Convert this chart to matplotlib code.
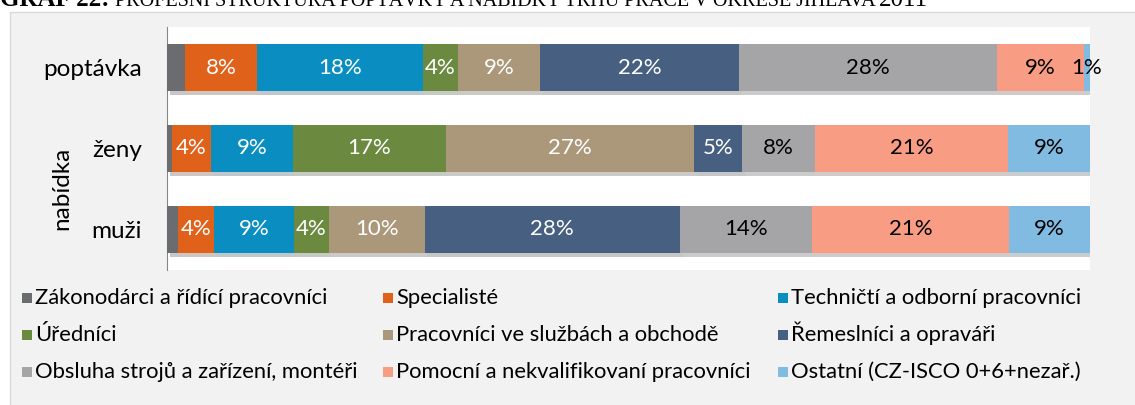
import numpy as np
import matplotlib
matplotlib.use("Agg")
import matplotlib.pyplot as plt
from matplotlib.patches import Rectangle
import matplotlib.patheffects as pe

plt.rcParams['font.family'] = ['Lato', 'DejaVu Sans']

# rows top to bottom
rows = ["poptávka", "ženy", "muži"]
series = ["Zákonodárci a řídící pracovníci", "Specialisté", "Techničtí a odborní pracovníci",
          "Úředníci", "Pracovníci ve službách a obchodě", "Řemeslníci a opraváři",
          "Obsluha strojů a zařízení, montéři", "Pomocní a nekvalifikovaní pracovníci",
          "Ostatní (CZ-ISCO 0+6+nezař.)"]
# shares in % per series: [poptávka, ženy, muži]
zakonodarci = [2.0, 0.5, 1.2]
specialiste = [7.8, 4.3, 3.9]
technicti = [17.9, 8.8, 8.7]
urednici = [3.8, 16.6, 3.7]
sluzby = [8.9, 26.9, 10.4]
remeslnici = [21.6, 5.2, 27.7]
obsluha = [27.9, 7.9, 14.3]
pomocni = [9.4, 20.9, 21.3]
ostatni = [0.7, 9.0, 8.8]
values = [zakonodarci, specialiste, technicti, urednici, sluzby, remeslnici, obsluha, pomocni, ostatni]

colors = ["#6b6c70", "#e0611a", "#0a8ec1", "#6b8a40", "#ab987a", "#476081", "#a5a5a7", "#f89d84", "#82bbe1"]
label_colors = ["white", "white", "white", "white", "white", "white", "black", "black", "black"]

W, H = 1135, 405
fig = plt.figure(figsize=(W / 100, H / 100), dpi=100)
fig.patch.set_facecolor("white")

# chart area background
bg = Rectangle((10 / W, -0.05), 1.1, 1.05 - 12 / H, transform=fig.transFigure,
               facecolor="#f2f2f2", edgecolor="#d9d9d9", lw=1, zorder=-10)
fig.patches.append(bg)

# title (partly cut off at the top)
base_y = 1 - 6 / H
t1 = fig.text(0.0, base_y, "GRAF 22:", family="Liberation Serif", fontsize=18,
              fontweight="bold", va="baseline", ha="left")
t2 = fig.text(0.0, base_y, " PROFESNÍ STRUKTURA POPTÁVKY A NABÍDKY TRHU PRÁCE V OKRESE JIHLAVA ",
              family="Liberation Serif", fontsize=14.5, va="baseline", ha="left")
t3 = fig.text(0.0, base_y, "2011", family="Liberation Serif", fontsize=18, va="baseline", ha="left")
fig.canvas.draw()
r = fig.canvas.get_renderer()
bb = t1.get_window_extent(r)
t2.set_position((bb.x1 / fig.bbox.width, base_y))
bb = t2.get_window_extent(r)
t3.set_position((bb.x1 / fig.bbox.width, base_y))

ax = fig.add_axes([167 / W, 1 - 270 / H, 923 / W, 243 / H])
ax.set_facecolor("white")

y = np.arange(len(rows))
left = np.zeros(len(rows))
for i, vals in enumerate(values):
    vals = np.array(vals)
    ax.barh(y, vals, left=left, height=0.57, color=colors[i], label=series[i], zorder=3,
            path_effects=[pe.SimplePatchShadow(offset=(2, -3), alpha=0.25), pe.Normal()])
    if i > 0:
        for j, v in enumerate(vals):
            ax.text(left[j] + v / 2, y[j], f"{v:.0f}%", ha="center", va="center",
                    color=label_colors[i], fontsize=16, zorder=4)
    left += vals

ax.set_xlim(0, 100)
ax.set_ylim(2.5, -0.5)
ax.set_xticks([])
ax.set_yticks(y)
ax.set_yticklabels(rows, fontsize=17.5)
ax.tick_params(axis="y", length=0, pad=18)
for s in ["top", "right", "bottom"]:
    ax.spines[s].set_visible(False)
ax.spines["left"].set_color("#868686")

fig.text(62 / W, 1 - 188 / H, "nabídka", rotation=90, fontsize=17.5, ha="center", va="center")

# legend: 3 columns, filled row by row
col_x = [22, 383, 778]
row_y = [298, 335, 372]
for k, name in enumerate(series):
    cx, cy = col_x[k % 3], row_y[k // 3]
    fig.patches.append(Rectangle((cx / W, 1 - (cy + 5) / H), 10 / W, 10 / H,
                                 transform=fig.transFigure, facecolor=colors[k], lw=0))
    fig.text((cx + 13) / W, 1 - (cy + 6) / H, name, fontsize=15.8, ha="left", va="baseline")

fig.savefig("out.png", dpi=100)
